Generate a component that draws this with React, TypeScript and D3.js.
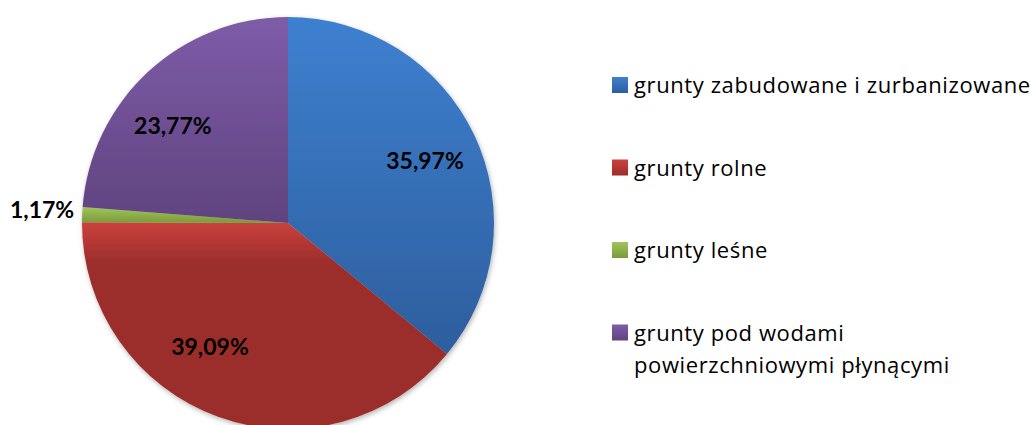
import React from "react";
import * as d3 from "d3";

// land use shares (%), clockwise from 12 o'clock
const categories = [
  "grunty zabudowane i zurbanizowane",
  "grunty rolne",
  "grunty leśne",
  "grunty pod wodami powierzchniowymi płynącymi",
];
const values = [35.97, 39.09, 1.17, 23.77];
const valueLabels = ["35,97%", "39,09%", "1,17%", "23,77%"];
const legendLines = [
  ["grunty zabudowane i zurbanizowane"],
  ["grunty rolne"],
  ["grunty leśne"],
  ["grunty pod wodami", "powierzchniowymi płynącymi"],
];

// light (top) / dark (bottom) for each slice, plus where the dark colour is reached
const shades = [
  { light: "#3e80d0", dark: "#2d5e9d", end: 1 },
  { light: "#cb423e", dark: "#9b2d2b", end: 0.2 },
  { light: "#9fc55b", dark: "#7a9a3a", end: 1 },
  { light: "#7e5ca8", dark: "#60437f", end: 1 },
];

// Excel "best fit" moves some labels off the centroid a little
const labelNudge = [
  [1, 2],
  [-27, -17],
  [0, 0],
  [-13, 13],
];

const width = 1033;
const height = 425;
const cx = 288;
const cy = 223;
const radius = 206;

export default function App() {
  const pie = d3
    .pie<number>()
    .sort(null)
    .value((d) => d);
  const arcs = pie(values);

  const arc = d3.arc<d3.PieArcDatum<number>>().innerRadius(0).outerRadius(radius);
  const labelArc = d3
    .arc<d3.PieArcDatum<number>>()
    .innerRadius(radius * 0.73)
    .outerRadius(radius * 0.73);

  const legendX = 612;
  const legendTop = 93;
  const legendStep = 82.5;

  const labelFont = {
    fontFamily: "Lato, sans-serif",
    fontWeight: "bold" as const,
    fontSize: 23,
    fill: "#000",
  };

  return (
    <svg
      width={width}
      height={height}
      style={{ position: "absolute", left: 0, top: 0, background: "#fff" }}
    >
      <defs>
        {shades.map((s, i) => (
          <linearGradient key={i} id={`grad-${i}`} x1="0" y1="0" x2="0" y2="1">
            <stop offset="0" stopColor={s.light} />
            <stop offset={s.end} stopColor={s.dark} />
          </linearGradient>
        ))}
        {shades.map((s, i) => (
          <linearGradient key={`l${i}`} id={`lgrad-${i}`} x1="0" y1="0" x2="0" y2="1">
            <stop offset="0" stopColor={s.light} />
            <stop offset="1" stopColor={s.dark} />
          </linearGradient>
        ))}
        <filter id="shadow" x="-10%" y="-10%" width="120%" height="120%">
          <feDropShadow dx="1" dy="2" stdDeviation="2.5" floodColor="#000" floodOpacity="0.3" />
        </filter>
      </defs>

      <g transform={`translate(${cx},${cy})`}>
        <g filter="url(#shadow)">
          {arcs.map((a, i) => (
            <path key={i} d={arc(a) ?? ""} fill={`url(#grad-${i})`} />
          ))}
        </g>
        {arcs.map((a, i) => {
          if (values[i] < 5) {
            // small slice: label outside, left of the rim
            const mid = (a.startAngle + a.endAngle) / 2;
            const x = Math.sin(mid) * (radius + 8);
            const y = -Math.cos(mid) * (radius + 8);
            return (
              <text key={i} x={x} y={y - 4} dy="0.35em" textAnchor="end" {...labelFont}>
                {valueLabels[i]}
              </text>
            );
          }
          const [x, y] = labelArc.centroid(a);
          return (
            <text
              key={i}
              x={x + labelNudge[i][0]}
              y={y + labelNudge[i][1]}
              dy="0.35em"
              textAnchor="middle"
              {...labelFont}
            >
              {valueLabels[i]}
            </text>
          );
        })}
      </g>

      {/* Legend */}
      {categories.map((c, i) => (
        <g key={c} transform={`translate(${legendX},${legendTop + i * legendStep})`}>
          <rect x={0} y={-16} width={16} height={16} fill={`url(#lgrad-${i})`} />
          <text
            x={22}
            y={0}
            fontFamily="'Open Sans', sans-serif"
            fontSize={22}
            letterSpacing={0.6}
            fill="#000"
          >
            {legendLines[i].map((line, j) => (
              <tspan key={j} x={22} y={j * 32}>
                {line}
              </tspan>
            ))}
          </text>
        </g>
      ))}
    </svg>
  );
}
